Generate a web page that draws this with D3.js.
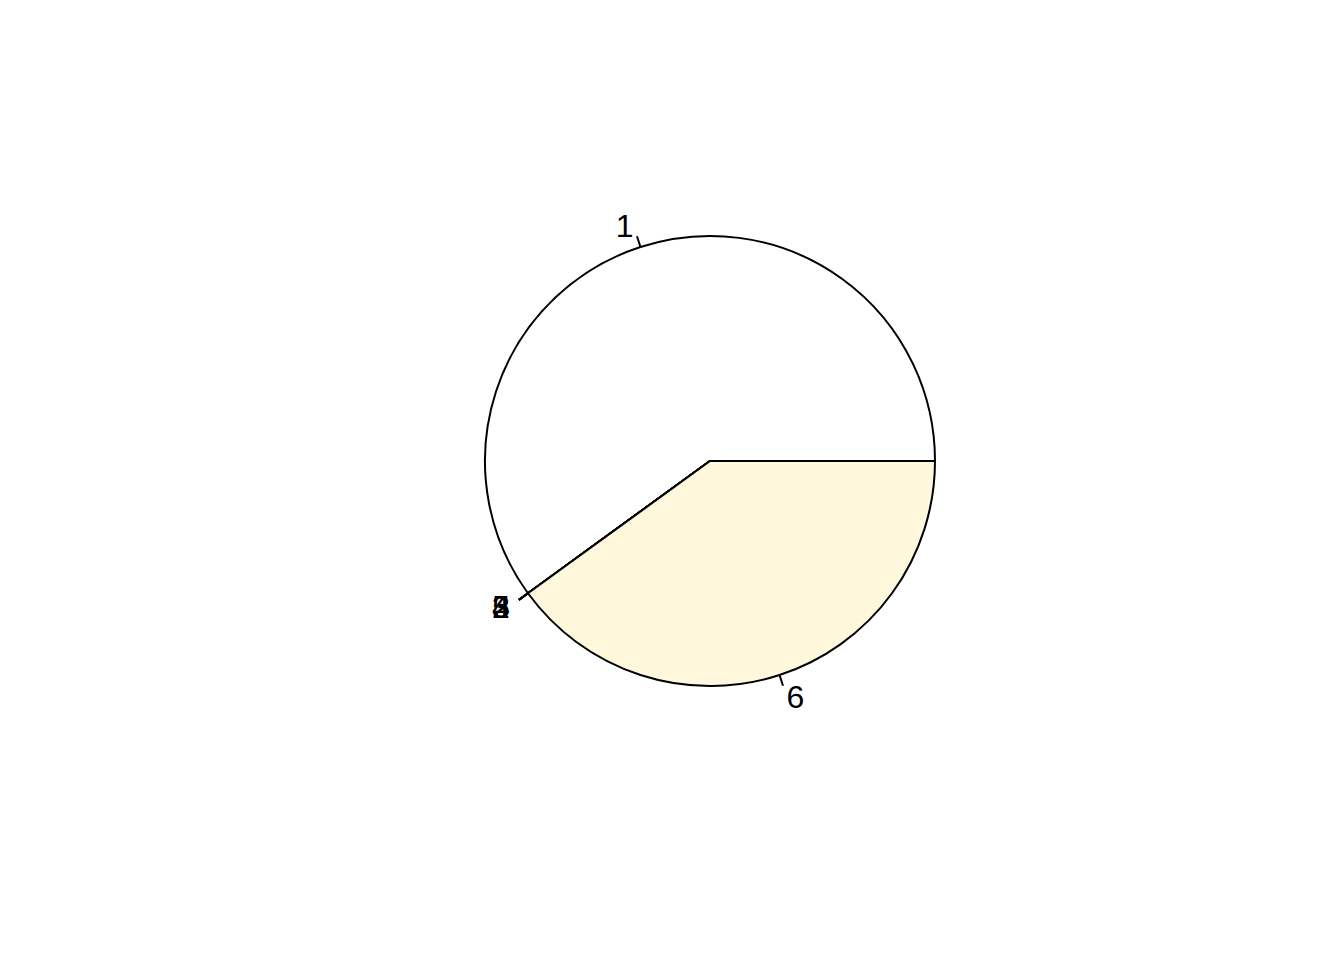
<!DOCTYPE html>
<html>
<head>
<meta charset="utf-8">
<script src="https://cdn.jsdelivr.net/npm/d3@7"></script>
<style>
  html, body { margin: 0; padding: 0; background: #ffffff; }
  svg { display: block; }
</style>
</head>
<body>
<svg id="chart" width="1344" height="960"></svg>
<script>
// Data
const labels = ["1", "2", "3", "4", "5", "6"];
const values = [60, 0, 0, 0, 0, 40];
const colors = ["#FFFFFF", "#ADD8E6", "#FFE4E1", "#E0FFFF", "#E6E6FA", "#FFF8DC"];

const width = 1344, height = 960;
const cx = 710, cy = 461, radius = 225;

const svg = d3.select("#chart");
const g = svg.append("g").attr("transform", `translate(${cx},${cy})`);

// R-style pie: counterclockwise from 3 o'clock
const pie = d3.pie().sort(null).value(d => d)
  .startAngle(Math.PI / 2).endAngle(Math.PI / 2 - 2 * Math.PI);
const arcs = pie(values);
const arc = d3.arc().innerRadius(0).outerRadius(radius);

arcs.forEach((a, i) => {
  g.append("path")
    .attr("d", arc(a))
    .attr("fill", colors[i])
    .attr("stroke", "#000")
    .attr("stroke-width", 2)
    .attr("stroke-linejoin", "round");
});

// ticks and labels
arcs.forEach((a, i) => {
  const mid = (a.startAngle + a.endAngle) / 2; // d3 angle: clockwise from 12
  const sx = Math.sin(mid), sy = -Math.cos(mid);
  g.append("line")
    .attr("x1", sx * radius).attr("y1", sy * radius)
    .attr("x2", sx * radius * 1.05).attr("y2", sy * radius * 1.05)
    .attr("stroke", "#000").attr("stroke-width", 2);
  g.append("text")
    .attr("x", sx * radius * 1.1)
    .attr("y", sy * radius * 1.1)
    .attr("dy", "0.36em")
    .attr("text-anchor", sx < 0 ? "end" : "start")
    .attr("font-family", "'Liberation Sans', Arial, Helvetica, sans-serif")
    .attr("font-size", 32)
    .attr("fill", "#000")
    .text(labels[i]);
});
</script>
</body>
</html>
